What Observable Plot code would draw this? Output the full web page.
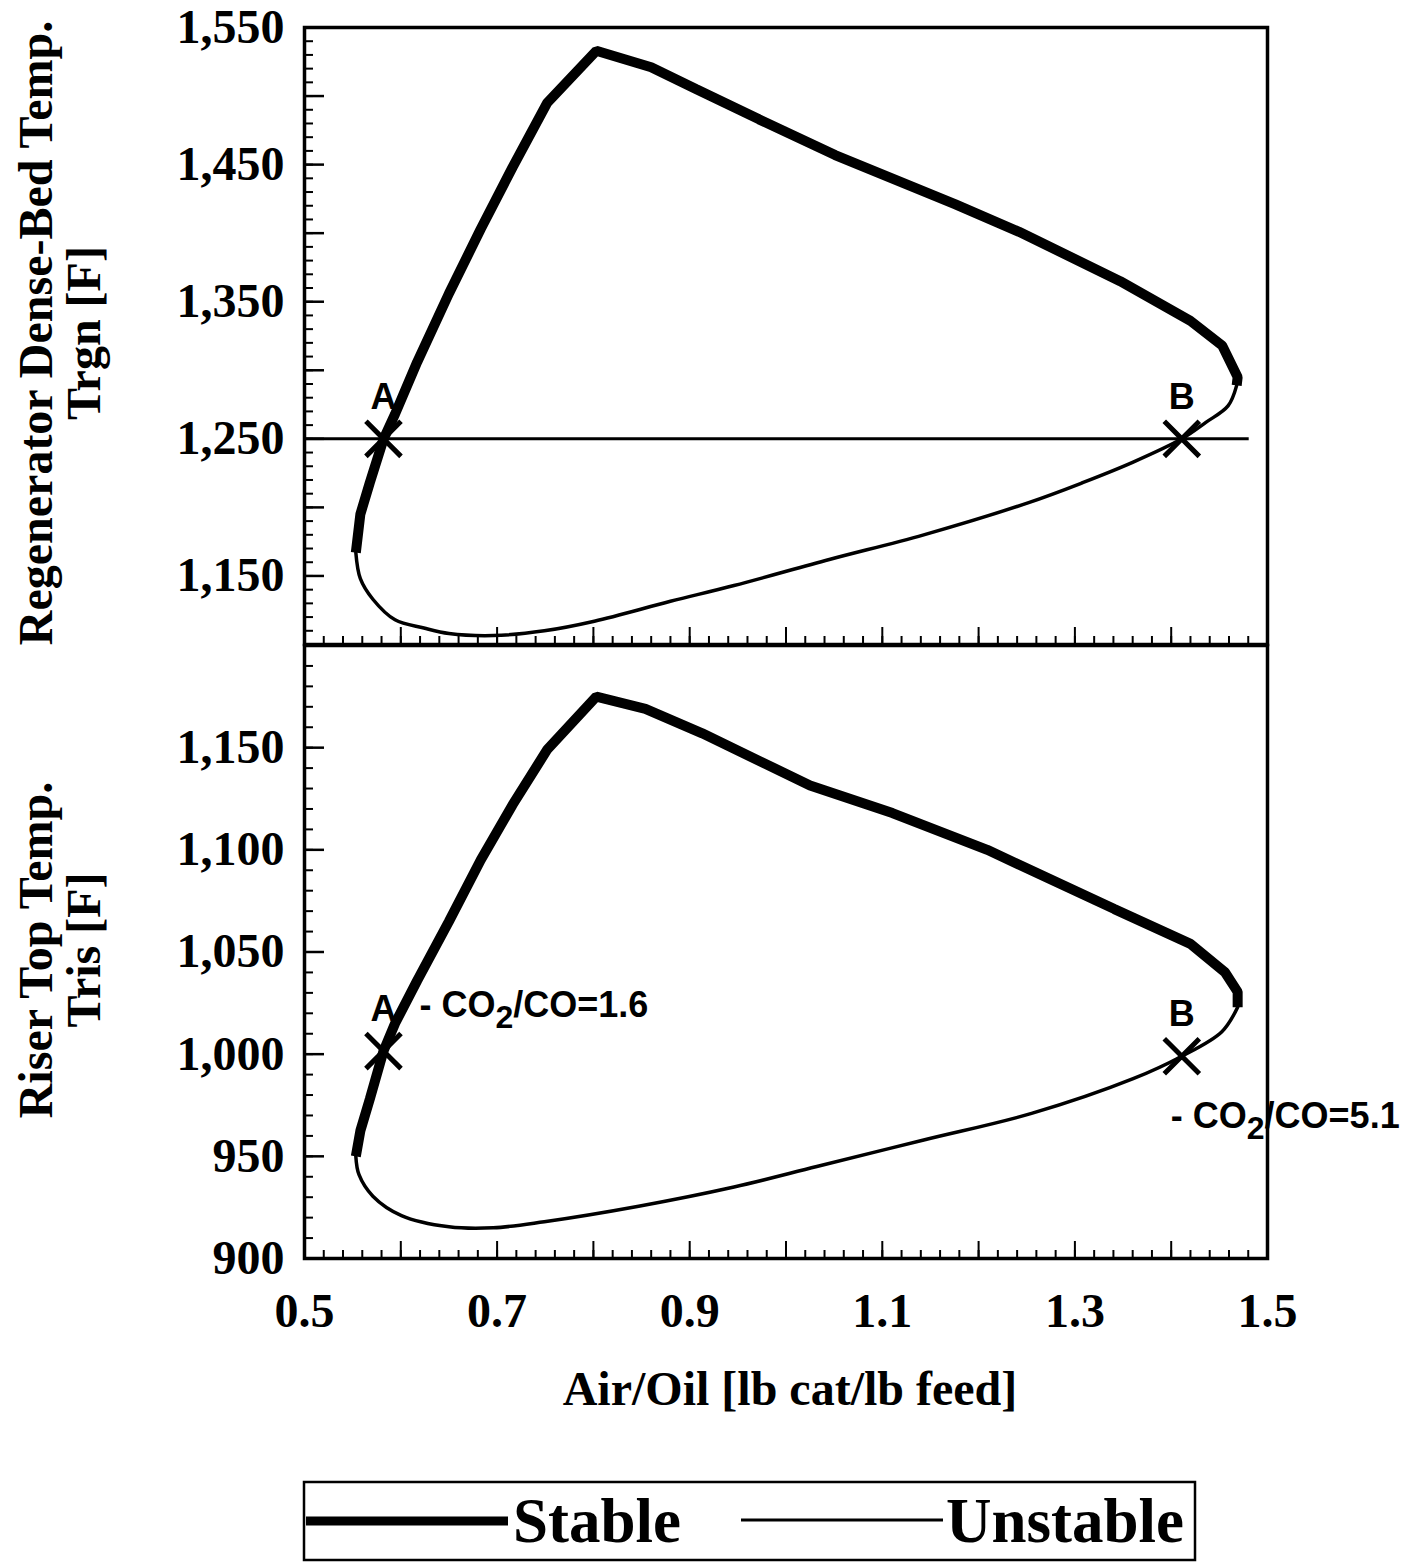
<!DOCTYPE html>
<html>
<head>
<meta charset="utf-8">
<script src="https://cdn.jsdelivr.net/npm/d3@7"></script>
<script src="https://cdn.jsdelivr.net/npm/@observablehq/plot@0.6"></script>
<style>
html, body { margin: 0; padding: 0; background: #fff; }
#wrap { position: relative; width: 1411px; height: 1562px; overflow: hidden; background: #fff; }
#top, #bot, #over { position: absolute; left: 0; }
#top { top: 0; }
#bot { top: 643px; }
#over { top: 0; pointer-events: none; }
</style>
</head>
<body>
<div id="wrap">
  <div id="top"></div>
  <div id="bot"></div>
  <svg id="over" width="1411" height="1562"></svg>
</div>
<script>
// ---------------- data ----------------
const xDomain = [0.5, 1.5];
const trgnDomain = [1100, 1550];
const trisDomain = [900, 1200];

const xTickLabels = [0.5, 0.7, 0.9, 1.1, 1.3, 1.5];
const xMajorTicks = [0.5, 0.6, 0.7, 0.8, 0.9, 1.0, 1.1, 1.2, 1.3, 1.4, 1.5];
const trgnTickLabels = [1150, 1250, 1350, 1450, 1550];
const trisTickLabels = [900, 950, 1000, 1050, 1100, 1150];

// Regenerator dense-bed temperature Trgn [F] vs Air/Oil
const trgnStable = [
  [0.5533, 1167], [0.558, 1195], [0.5678, 1218], [0.5822, 1250], [0.594, 1268],
  [0.617, 1306], [0.65, 1356], [0.683, 1403], [0.716, 1448], [0.752, 1495],
  [0.803, 1533], [0.860, 1521], [0.907, 1505], [0.972, 1483], [1.051, 1457],
  [1.176, 1421], [1.242, 1401], [1.347, 1365], [1.42, 1336], [1.453, 1318],
  [1.469, 1295], [1.468, 1289]
];
const trgnUnstable = [
  [1.468, 1289], [1.459, 1274], [1.436, 1262], [1.411, 1250], [1.3605, 1233],
  [1.308, 1218], [1.252, 1203.5], [1.143, 1180], [1.045, 1162], [0.946, 1143],
  [0.88, 1131.5], [0.801, 1117], [0.749, 1110], [0.696, 1106.5], [0.65, 1108],
  [0.624, 1112], [0.594, 1118], [0.571, 1133], [0.558, 1148], [0.5533, 1167]
];

// Riser top temperature Tris [F] vs Air/Oil
const trisStable = [
  [0.5533, 950], [0.558, 962.5], [0.5678, 978], [0.582, 1001.5], [0.594, 1015],
  [0.617, 1036], [0.65, 1065], [0.683, 1095], [0.716, 1122], [0.752, 1149],
  [0.803, 1175], [0.854, 1169], [0.913, 1157], [1.025, 1131.5], [1.1105, 1118],
  [1.209, 1100], [1.341, 1071], [1.42, 1054], [1.456, 1040], [1.469, 1030.5],
  [1.469, 1023]
];
const trisUnstable = [
  [1.469, 1023], [1.4526, 1011], [1.411, 999], [1.3605, 988], [1.255, 971],
  [1.143, 958], [1.032, 945], [0.946, 935], [0.847, 925.6], [0.749, 918],
  [0.696, 915], [0.65, 915.5], [0.6007, 921], [0.571, 930.5], [0.5566, 941],
  [0.5533, 950]
];

const operatingTrgn = 1250;
const operatingLine = [0.5, 1.481];
const pointA = {label: "A", x: 0.582, trgn: 1250, tris: 1001.5, ratio: "- CO2/CO=1.6"};
const pointB = {label: "B", x: 1.411, trgn: 1250, tris: 999, ratio: "- CO2/CO=5.1"};
const points = [pointA, pointB];

const yTitleTop = ["Regenerator Dense-Bed Temp.", "Trgn [F]"];
const yTitleBottom = ["Riser Top Temp.", "Tris [F]"];
const xTitle = "Air/Oil [lb cat/lb feed]";
const legendLabels = ["Stable", "Unstable"];

// ---------------- layout ----------------
const W = 1411, ML = 304, MR = 144;
const PW = W - ML - MR;
const PH1 = 617, PH2 = 613;
const SERIF = '"Liberation Serif","Times New Roman",Times,serif';
const SANS = '"Liberation Sans",Arial,Helvetica,sans-serif';
const comma = d3.format(",");

const xMinor = d3.range(0.5, 1.5001, 0.02);
const trgnMinor = d3.range(1100, 1551, 10);
const trgnMajor = d3.range(1100, 1551, 50);
const trisMinor = d3.range(900, 1201, 10);
const trisMajor = d3.range(900, 1201, 50);

const style = {background: "none", fontFamily: SERIF, fontWeight: "bold", fontSize: "48px", color: "#000", overflow: "visible"};
const annot = {fontFamily: SANS, fontWeight: "bold", fontSize: 36, fill: "#000"};

function tickMarks(PH, yMinor, yMajor) {
  return [
    Plot.ruleX(xMinor, {x: d => d, insetTop: PH - 8, strokeWidth: 2}),
    Plot.ruleX(xMajorTicks, {x: d => d, insetTop: PH - 17, strokeWidth: 2}),
    Plot.ruleY(yMinor, {y: d => d, insetRight: PW - 9, strokeWidth: 2}),
    Plot.ruleY(yMajor, {y: d => d, insetRight: PW - 20, strokeWidth: 2.5})
  ];
}

const topPlot = Plot.plot({
  width: W, height: 27 + PH1 + 1,
  marginTop: 27, marginBottom: 1, marginLeft: ML, marginRight: MR,
  x: {domain: xDomain, axis: null},
  y: {domain: trgnDomain},
  style,
  marks: [
    ...tickMarks(PH1, trgnMinor, trgnMajor),
    Plot.axisY({ticks: trgnTickLabels, tickSize: 0, tickPadding: 20, tickFormat: comma, label: null}),
    Plot.ruleY([operatingTrgn], {x1: operatingLine[0], x2: operatingLine[1], strokeWidth: 3}),
    Plot.line(trgnUnstable, {x: d => d[0], y: d => d[1], curve: "catmull-rom", strokeWidth: 3.5}),
    Plot.line(trgnStable, {x: d => d[0], y: d => d[1], strokeWidth: 10, strokeLinejoin: "miter", strokeLinecap: "butt"}),
    Plot.dot(points, {x: "x", y: "trgn", symbol: "times", r: 16, strokeWidth: 5, stroke: "#000"}),
    Plot.text(points, {x: "x", y: "trgn", text: "label", dy: -41, ...annot}),
    Plot.frame({strokeWidth: 3.5})
  ]
});

const botPlot = Plot.plot({
  width: W, height: 2 + PH2 + 118,
  marginTop: 2, marginBottom: 118, marginLeft: ML, marginRight: MR,
  x: {domain: xDomain},
  y: {domain: trisDomain},
  style,
  marks: [
    ...tickMarks(PH2, trisMinor, trisMajor),
    Plot.axisY({ticks: trisTickLabels, tickSize: 0, tickPadding: 20, tickFormat: comma, label: null}),
    Plot.axisX({ticks: xTickLabels, tickSize: 0, tickPadding: 34, tickFormat: d3.format(".1f"), label: null}),
    Plot.line(trisUnstable, {x: d => d[0], y: d => d[1], curve: "catmull-rom", strokeWidth: 3.5}),
    Plot.line(trisStable, {x: d => d[0], y: d => d[1], strokeWidth: 10, strokeLinejoin: "miter", strokeLinecap: "butt"}),
    Plot.dot(points, {x: "x", y: "tris", symbol: "times", r: 16, strokeWidth: 5, stroke: "#000"}),
    Plot.text(points, {x: "x", y: "tris", text: "label", dy: -42, ...annot}),
    Plot.text([pointA], {x: "x", y: "tris", text: "ratio", textAnchor: "start", dx: 36, dy: -46, ...annot}),
    Plot.text([pointB], {x: "x", y: "tris", text: "ratio", textAnchor: "start", dx: -11, dy: 60, ...annot}),
    Plot.frame({strokeWidth: 3.5})
  ]
});

// subscript the "2" of CO2
function subscript(svg) {
  const ns = "http://www.w3.org/2000/svg";
  svg.querySelectorAll("text").forEach(t => {
    const s = t.textContent;
    const i = s.indexOf("CO2");
    if (i < 0 || t.querySelector("tspan")) return;
    t.textContent = "";
    const a = document.createElementNS(ns, "tspan"); a.textContent = s.slice(0, i + 2);
    const b = document.createElementNS(ns, "tspan"); b.textContent = "2";
    b.setAttribute("dy", "11"); b.setAttribute("font-size", "32");
    const c = document.createElementNS(ns, "tspan"); c.textContent = s.slice(i + 3);
    c.setAttribute("dy", "-11");
    t.append(a, b, c);
  });
}
subscript(botPlot);

document.getElementById("top").appendChild(topPlot);
document.getElementById("bot").appendChild(botPlot);

// ---------------- titles and legend ----------------
const over = d3.select("#over");
const titleFont = {"font-family": SERIF, "font-weight": "bold", "font-size": 48, "fill": "#000"};
function rotTitle(lines, cy) {
  const xs = [52, 100];
  lines.forEach((line, k) => {
    const t = over.append("text")
      .attr("transform", `translate(${xs[k]},${cy}) rotate(-90)`)
      .attr("text-anchor", "middle")
      .text(line);
    Object.entries(titleFont).forEach(([k2, v]) => t.attr(k2, v));
  });
}
rotTitle(yTitleTop, 333);
rotTitle(yTitleBottom, 950);

const xt = over.append("text").attr("x", 790).attr("y", 1405).attr("text-anchor", "middle").text(xTitle);
Object.entries(titleFont).forEach(([k, v]) => xt.attr(k, v));

over.append("rect").attr("x", 304).attr("y", 1482).attr("width", 891).attr("height", 78)
  .attr("fill", "none").attr("stroke", "#000").attr("stroke-width", 2.5);
over.append("line").attr("x1", 306).attr("x2", 508).attr("y1", 1521).attr("y2", 1521)
  .attr("stroke", "#000").attr("stroke-width", 9);
over.append("line").attr("x1", 741).attr("x2", 943).attr("y1", 1520).attr("y2", 1520)
  .attr("stroke", "#000").attr("stroke-width", 3);
[[513, legendLabels[0]], [946, legendLabels[1]]].forEach(([x, s]) => {
  const t = over.append("text").attr("x", x).attr("y", 1542).text(s);
  Object.entries(titleFont).forEach(([k, v]) => t.attr(k, v));
  t.attr("font-size", 63);
});
</script>
</body>
</html>
